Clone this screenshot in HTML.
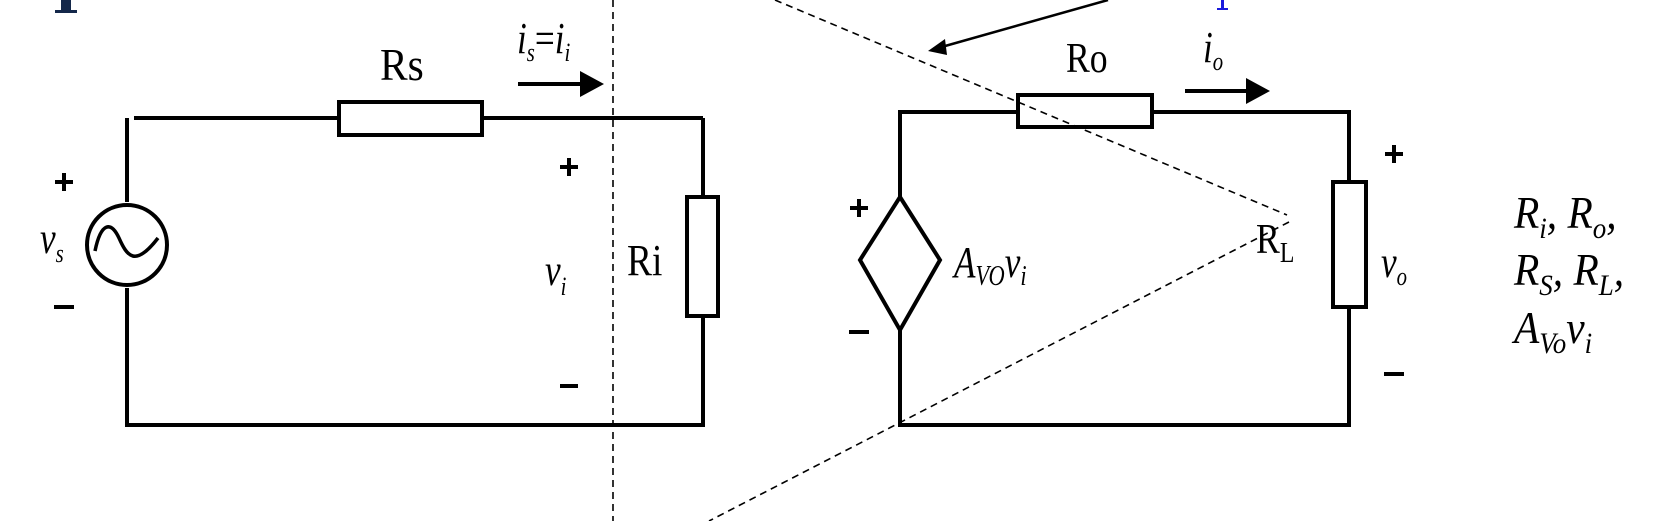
<!DOCTYPE html>
<html><head><meta charset="utf-8"><style>
html,body{margin:0;padding:0;background:#fff;}
svg{display:block;}
text{font-family:"Liberation Serif",serif;fill:#000;}
.w{stroke:#000;stroke-width:4;fill:none;}
.r{stroke:#000;stroke-width:4;fill:#fff;}
.d{stroke:#000;stroke-width:1.6;stroke-dasharray:7,5;fill:none;}
.i{font-style:italic;}
</style></head><body>
<svg width="1661" height="521" viewBox="0 0 1661 521" xmlns="http://www.w3.org/2000/svg">
<!-- top partial glyphs -->
<rect x="61" y="0" width="10" height="12" fill="#14284a"/>
<rect x="55" y="10" width="22" height="3" fill="#14284a"/>
<rect x="1221" y="0" width="3" height="10" fill="#1a1adc"/>
<rect x="1217" y="8" width="11" height="2" fill="#1a1adc"/>

<!-- Left circuit -->
<line class="w" x1="127" y1="202" x2="127" y2="118"/>
<line class="w" x1="134" y1="118" x2="703" y2="118"/>
<polyline class="w" points="127,288 127,425 703,425 703,118"/>
<rect class="r" x="339" y="102" width="143" height="33"/>
<rect class="r" x="687" y="197" width="31" height="119"/>
<circle cx="127" cy="245" r="40" class="r"/>
<path d="M95,251 C101,222 111,221 119,238 C127,256 135,268 158,238" stroke="#000" stroke-width="3.5" fill="none"/>
<!-- plus/minus -->
<g stroke="#000" stroke-width="4">
<line x1="55" y1="182" x2="73" y2="182"/><line x1="64" y1="173" x2="64" y2="191"/>
<line x1="54" y1="307" x2="74" y2="307"/>
<line x1="560" y1="167" x2="578" y2="167"/><line x1="569" y1="158" x2="569" y2="176"/>
<line x1="560" y1="386" x2="578" y2="386"/>
<line x1="850" y1="208" x2="868" y2="208"/><line x1="859" y1="199" x2="859" y2="217"/>
<line x1="849" y1="332" x2="869" y2="332"/>
<line x1="1385" y1="154" x2="1403" y2="154"/><line x1="1394" y1="145" x2="1394" y2="163"/>
<line x1="1384" y1="374" x2="1404" y2="374"/>
</g>
<text class="i" transform="translate(40,253) scale(0.8,1)" font-size="44">v<tspan font-size="26" dy="9">s</tspan></text>
<text transform="translate(380,80) scale(0.9,1)" font-size="46">Rs</text>
<text class="i" transform="translate(517,53) scale(0.8,1)" font-size="44">i<tspan font-size="26" dy="8">s</tspan><tspan dy="-8" font-style="normal">=</tspan>i<tspan font-size="26" dy="8">i</tspan></text>
<line x1="518" y1="84" x2="590" y2="84" stroke="#000" stroke-width="4"/>
<path d="M580,71 L604,84 L580,97 z" fill="#000"/>
<text class="i" transform="translate(545,285) scale(0.8,1)" font-size="44">v<tspan font-size="26" dy="10">i</tspan></text>
<text transform="translate(627,275) scale(0.85,1)" font-size="44">Ri</text>

<!-- Right circuit -->
<polyline class="w" points="900,197 900,112 1349,112 1349,425 900,425 900,330"/>
<rect class="r" x="1018" y="95" width="134" height="32"/>
<rect class="r" x="1333" y="182" width="33" height="125"/>
<polygon class="r" points="900,197 940,260 900,330 860,260"/>
<text transform="translate(1066,72) scale(0.85,1)" font-size="42">Ro</text>
<text class="i" transform="translate(1203,62) scale(0.8,1)" font-size="44">i<tspan font-size="26" dy="8">o</tspan></text>
<line x1="1185" y1="91" x2="1256" y2="91" stroke="#000" stroke-width="4"/>
<path d="M1246,78 L1270,91 L1246,104 z" fill="#000"/>
<text class="i" transform="translate(954,277) scale(0.8,1)" font-size="44">A<tspan font-size="28" dy="8">VO</tspan><tspan dy="-8">v</tspan><tspan font-size="28" dy="8">i</tspan></text>
<text transform="translate(1256,253) scale(0.85,1)" font-size="42">R<tspan font-size="28" dy="9">L</tspan></text>
<text class="i" transform="translate(1381,277) scale(0.8,1)" font-size="44">v<tspan font-size="26" dy="8">o</tspan></text>

<!-- right text -->
<text class="i" transform="translate(1514,228) scale(0.9,1)" font-size="46">R<tspan font-size="30" dy="10">i</tspan><tspan dy="-10">, R</tspan><tspan font-size="30" dy="10">o</tspan><tspan dy="-10">,</tspan></text>
<text class="i" transform="translate(1514,285) scale(0.9,1)" font-size="46">R<tspan font-size="30" dy="10">S</tspan><tspan dy="-10">, R</tspan><tspan font-size="30" dy="10">L</tspan><tspan dy="-10">,</tspan></text>
<text class="i" transform="translate(1514,343) scale(0.9,1)" font-size="46">A<tspan font-size="30" dy="10">Vo</tspan><tspan dy="-10">v</tspan><tspan font-size="30" dy="10">i</tspan></text>

<!-- dashed lines (on top) -->
<line class="d" x1="613" y1="0" x2="613" y2="521"/>
<line class="d" x1="775" y1="0" x2="1287" y2="215"/>
<line class="d" x1="1289" y1="222" x2="709" y2="521"/>

<!-- solid pointer arrow -->
<line x1="1108" y1="0" x2="938" y2="48" stroke="#000" stroke-width="2.5"/>
<path d="M928,51 L945,39 L947,55 z" fill="#000"/>
</svg>
</body></html>
